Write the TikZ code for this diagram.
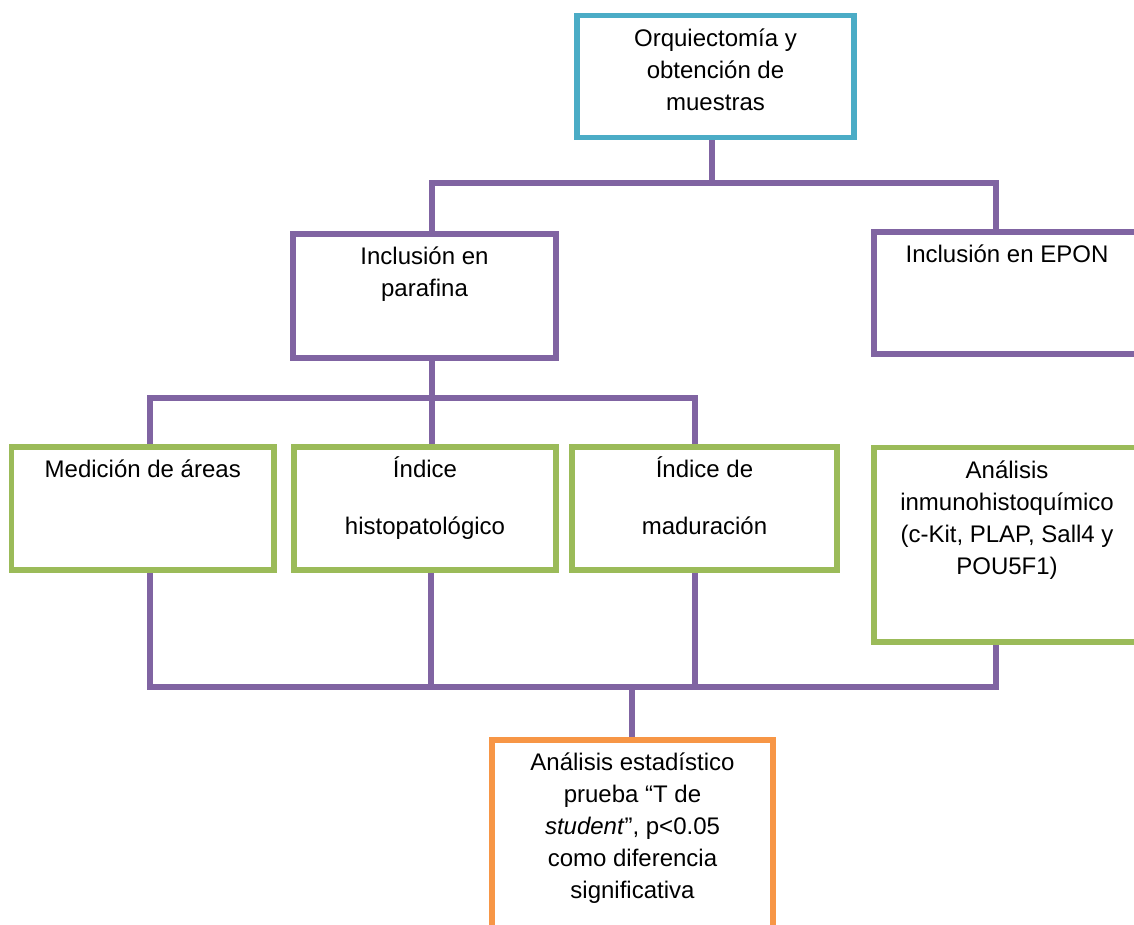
\documentclass[tikz,border=0pt]{standalone}
\usepackage{fontspec}
\setmainfont{Liberation Sans}
\definecolor{flowcyan}{HTML}{4BACC6}
\definecolor{flowpurple}{HTML}{8064A2}
\definecolor{flowgreen}{HTML}{9BBB59}
\definecolor{floworange}{HTML}{F79646}
\pgfdeclarelayer{background}
\pgfsetlayers{background,main}
\newcommand{\firstln}{\rule{0pt}{16.5pt}}

\begin{document}
\begin{tikzpicture}[x=0.5pt,y=-0.5pt,
  box/.style={draw, line width=2.75pt, inner sep=0pt, fill=white},
  txt/.style={anchor=north, inner sep=0pt, align=center, font=\fontsize{12}{16}\selectfont},
  link/.style={draw=flowpurple, line width=2.75pt}]
  \useasboundingbox (0,0) rectangle (1134,925);
  \clip (0,0) rectangle (1134,925);
  %% boxes
  \node[box, draw=flowcyan, minimum width=138.5pt, minimum height=61pt] (top) at (715.5,76.5) {};
  \node[box, draw=flowpurple, minimum width=131.5pt, minimum height=62pt] (par) at (424.5,296) {};
  \node[box, draw=flowpurple, minimum width=133pt, minimum height=60.75pt] (epon) at (1007,293) {};
  \node[box, draw=flowgreen, minimum width=131.25pt, minimum height=61.5pt] (med) at (142.75,508.5) {};
  \node[box, draw=flowgreen, minimum width=131pt, minimum height=61.5pt] (his) at (425,508.5) {};
  \node[box, draw=flowgreen, minimum width=132.5pt, minimum height=61.5pt] (mad) at (704.5,508.5) {};
  \node[box, draw=flowgreen, minimum width=133pt, minimum height=97.25pt] (inm) at (1007,544.75) {};
  \node[box, draw=floworange, minimum width=140.5pt, minimum height=110pt] (est) at (632.5,850) {};
  %% texts
  \node[txt] (topT) at (top.north) {\firstln Orquiectomía y\\ obtención de\\ muestras};
  \node[txt] (parT) at (par.north) {\firstln Inclusión en\\ parafina};
  \node[txt] (eponT) at (epon.north) {\firstln Inclusión en EPON};
  \node[txt] (medT) at (med.north) {\firstln Medición de áreas};
  \node[txt] (hisT) at (his.north) {\firstln Índice\\[12.5pt] histopatológico};
  \node[txt] (madT) at (mad.north) {\firstln Índice de\\[12.5pt] maduración};
  \node[txt] (inmT) at (inm.north) {\firstln Análisis\\ inmunohistoquímico\\ (c-Kit, PLAP, Sall4 y\\ POU5F1)};
  \node[txt] (estT) at (est.north) {\firstln Análisis estadístico\\ prueba “T de\\ \textit{student}”, p<0.05\\ como diferencia\\ significativa};
  %% connectors
  \coordinate (a1) at (712,183);
  \coordinate (a2) at (432,183);
  \coordinate (a3) at (996,183);
  \coordinate (b0) at (150,398);
  \coordinate (b1) at (432,398);
  \coordinate (b2) at (695,398);
  \coordinate (c0) at (150,687);
  \coordinate (c1) at (431,687);
  \coordinate (c2) at (695,687);
  \coordinate (c3) at (996,687);
  \coordinate (c4) at (632,687);
  \begin{pgfonlayer}{background}
    \draw[link] (top.south -| a1) -- (a1);
    \draw[link] (par.north -| a2) |- (a3) -- (epon.north -| a3);
    \draw[link] (par.south -| b1) -- (b1);
    \draw[link] (med.north -| b0) |- (b2) -- (mad.north -| b2);
    \draw[link] (b1) -- (his.north -| b1);
    \draw[link] (med.south -| c0) |- (c3) -- (inm.south -| c3);
    \draw[link] (his.south -| c1) -- (c1);
    \draw[link] (mad.south -| c2) -- (c2);
    \draw[link] (c4) -- (est.north -| c4);
  \end{pgfonlayer}
\end{tikzpicture}
\end{document}
